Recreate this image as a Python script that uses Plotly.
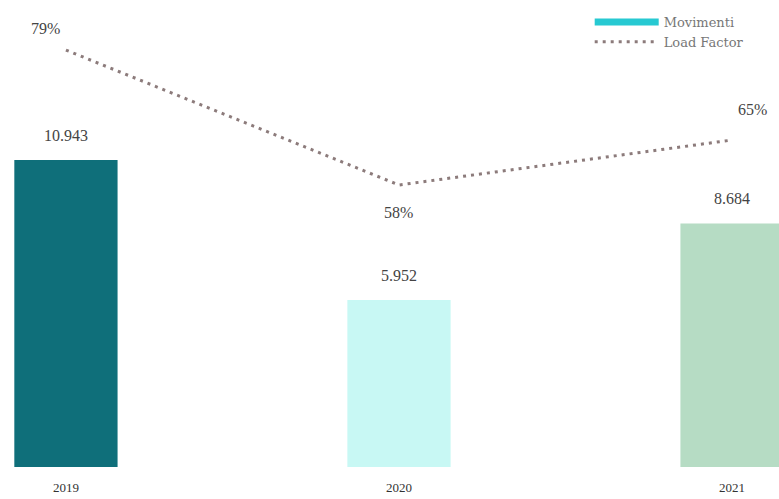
import plotly.graph_objects as go

years = ["2019", "2020", "2021"]
movimenti = [10943, 5952, 8684]
movimenti_labels = ["10.943", "5.952", "8.684"]
load_factor = [79, 58, 65]
load_factor_labels = ["79%", "58%", "65%"]
bar_colors = ["#0f6f7a", "#c8f8f4", "#b6dcc4"]

font_family = "Liberation Serif"

fig = go.Figure()

fig.add_trace(go.Bar(
    x=years, y=movimenti, marker=dict(color=bar_colors, line=dict(width=0)),
    width=0.31, showlegend=False, hoverinfo="skip"))

# legend proxy for bars
fig.add_trace(go.Scatter(
    x=[None], y=[None], mode="lines", name="Movimenti",
    line=dict(color="#27c9d2", width=7)))

fig.add_trace(go.Scatter(
    x=years, y=load_factor, mode="lines", name="Load Factor", yaxis="y2",
    line=dict(color="#8c7b7b", width=3, dash="3px,5px")))

# value labels (category index positions on the category axis)
for i, (v, t) in enumerate(zip(movimenti, movimenti_labels)):
    fig.add_annotation(x=i, y=v, text=t, showarrow=False, yshift=25,
                       xanchor="center", yanchor="middle",
                       font=dict(family=font_family, size=16, color="#444"))

lf_pos = [("center", -20, 22), ("center", 0, -27), ("left", 4, 31)]
for i, ((v, t), (anc, dx, dy)) in enumerate(zip(zip(load_factor, load_factor_labels), lf_pos)):
    fig.add_annotation(x=i, y=v, yref="y2", text=t, showarrow=False,
                       xshift=dx, yshift=dy, xanchor=anc, yanchor="middle",
                       font=dict(family=font_family, size=16, color="#444"))

fig.update_layout(
    width=779, height=499,
    margin=dict(l=0, r=0, t=0, b=32, autoexpand=False),
    paper_bgcolor="white", plot_bgcolor="white",
    font=dict(family=font_family, color="#444"),
    xaxis=dict(type="category", range=[-0.198, 2.141], showgrid=False,
               showline=False, zeroline=False, ticks="", ticklabelstandoff=11,
               tickfont=dict(family=font_family, size=13, color="#333")),
    yaxis=dict(range=[0, 16649], visible=False, showgrid=False),
    yaxis2=dict(range=[14.1, 86.8], overlaying="y", visible=False, showgrid=False),
    legend=dict(x=0.757, y=0.985, xanchor="left", yanchor="top",
                bgcolor="rgba(0,0,0,0)", tracegroupgap=0,
                font=dict(family="DejaVu Serif", size=13, color="#777"),
                itemwidth=64),
    showlegend=True,
)

fig.write_html("out.html")
